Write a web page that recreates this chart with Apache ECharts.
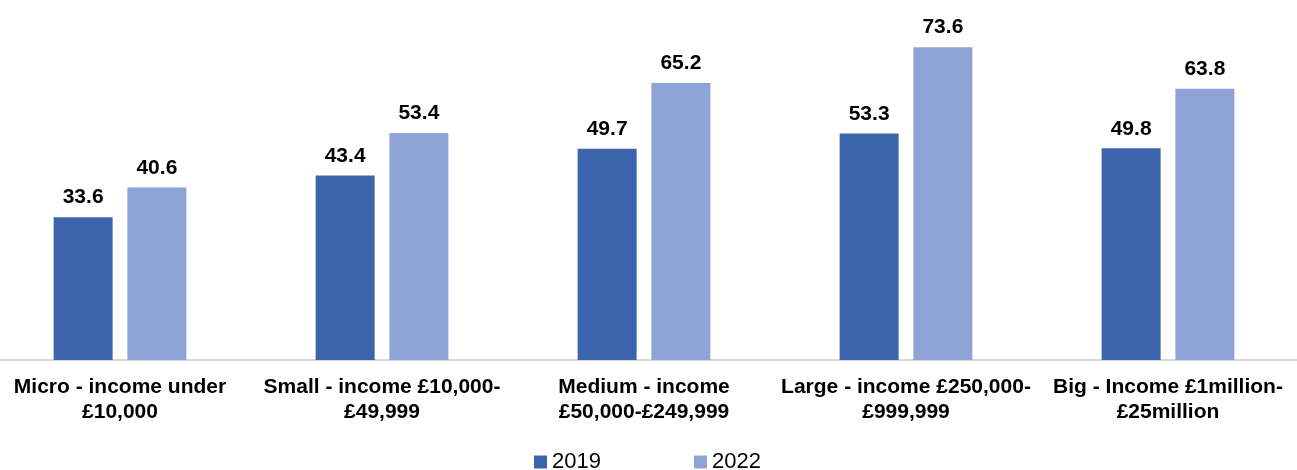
<!DOCTYPE html>
<html>
<head>
<meta charset="utf-8">
<script src="https://cdn.jsdelivr.net/npm/echarts@6/dist/echarts.min.js"></script>
<style>
  html, body { margin: 0; padding: 0; background: #ffffff; overflow: hidden; }
  #chart { width: 1310px; height: 470px; margin-left: -11px; }
</style>
</head>
<body>
<div id="chart"></div>
<script>
// Income bands, each label broken over two lines
const categories = [
  'Micro - income under\n£10,000',
  'Small - income £10,000-\n£49,999',
  'Medium - income\n£50,000-£249,999',
  'Large - income £250,000-\n£999,999',
  'Big - Income £1million-\n£25million'
];
const values2019 = [33.6, 43.4, 49.7, 53.3, 49.8];
const values2022 = [40.6, 53.4, 65.2, 73.6, 63.8];
const seriesNames = ['2019', '2022'];
const colors = ['#3c64ad', '#8fa4d6'];

const FONT = '"Liberation Sans", Arial, sans-serif';

const valueLabel = {
  show: true,
  position: 'top',
  distance: 9,
  color: '#000000',
  fontFamily: FONT,
  fontWeight: 'bold',
  fontSize: 21,
  formatter: p => p.value.toFixed(1)
};

const chart = echarts.init(document.getElementById('chart'), null, { renderer: 'canvas' });
chart.setOption({
  animation: false,
  color: colors,
  grid: { left: 0, right: 0, top: 20, height: 340 },
  legend: {
    top: 451,
    left: 545,
    padding: 0,
    itemWidth: 13,
    itemHeight: 13,
    itemGap: 93,
    icon: 'rect',
    textStyle: { fontFamily: FONT, fontSize: 22, color: '#000000' },
    data: seriesNames
  },
  xAxis: {
    type: 'category',
    data: categories,
    axisLine: { lineStyle: { color: '#d9d9d9', width: 2 } },
    axisTick: { show: false },
    axisLabel: {
      interval: 0,
      margin: 15,
      color: '#000000',
      fontFamily: FONT,
      fontWeight: 'bold',
      fontSize: 21,
      lineHeight: 25,
      align: 'center'
    }
  },
  yAxis: {
    type: 'value',
    min: 0,
    max: 80,
    show: false,
    splitLine: { show: false }
  },
  series: [
    {
      name: seriesNames[0],
      type: 'bar',
      data: values2019,
      barWidth: 59,
      barGap: '25%',
      label: valueLabel
    },
    {
      name: seriesNames[1],
      type: 'bar',
      data: values2022,
      barWidth: 59,
      barGap: '25%',
      label: valueLabel
    }
  ]
});
</script>
</body>
</html>
